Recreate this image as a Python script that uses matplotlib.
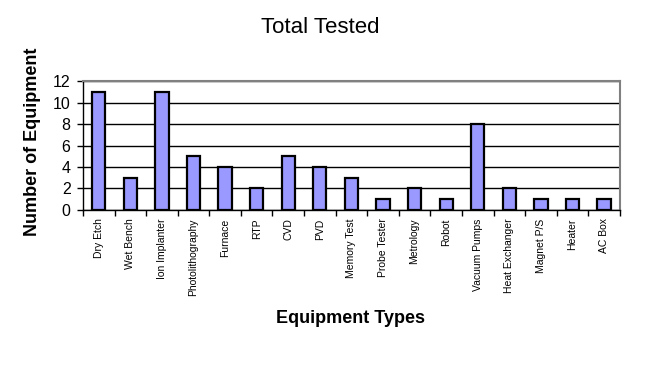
import matplotlib
matplotlib.use('Agg')
import matplotlib.pyplot as plt
import numpy as np

plt.rcParams['font.family'] = ['Liberation Sans', 'DejaVu Sans']

# Equipment categories and counts
equipment = ['Dry Etch', 'Wet Bench', 'Ion Implanter', 'Photolithography', 'Furnace',
             'RTP', 'CVD', 'PVD', 'Memory Test', 'Probe Tester', 'Metrology', 'Robot',
             'Vacuum Pumps', 'Heat Exchanger', 'Magnet P/S', 'Heater', 'AC Box']
counts = [11, 3, 11, 5, 4, 2, 5, 4, 3, 1, 2, 1, 8, 2, 1, 1, 1]
y_ticks = [0, 2, 4, 6, 8, 10, 12]

fig = plt.figure(figsize=(6.47, 3.69), dpi=100)
ax = fig.add_axes([0.1283, 0.431, 0.8297, 0.349])

x = np.arange(len(equipment))
ax.set_axisbelow(True)
ax.bar(x, counts, width=0.42, color='#9999FF', edgecolor='black', linewidth=1.6, zorder=3)

ax.set_xlim(-0.5, len(equipment) - 0.5)
ax.set_ylim(0, 12)
ax.set_yticks(y_ticks)
ax.yaxis.grid(True, color='black', linewidth=1.0)

# category labels in the middle, tick marks on the boundaries
ax.set_xticks(x)
ax.set_xticklabels(equipment, rotation=90, fontsize=7.5, va='top')
ax.tick_params(axis='x', length=0, pad=6)
ax.set_xticks(np.arange(-0.5, len(equipment)), minor=True)
ax.tick_params(axis='x', which='minor', length=4, width=1, direction='out', color='black')
ax.tick_params(axis='y', labelsize=11.5, length=4, width=1, pad=5)

for side in ['top', 'right']:
    ax.spines[side].set_color('#808080')
    ax.spines[side].set_linewidth(1.5)
for side in ['left', 'bottom']:
    ax.spines[side].set_color('black')
    ax.spines[side].set_linewidth(1.0)

fig.text(0.495, 1 - 33 / 369, 'Total Tested', ha='center', va='baseline', fontsize=16)
fig.text(0.5425, 1 - 323 / 369, 'Equipment Types', ha='center', va='baseline',
         fontsize=13, fontweight='bold')
fig.text(0.051, 0.6165, 'Number of Equipment', ha='center', va='center', rotation=90,
         fontsize=13, fontweight='bold')

fig.savefig('out.png', dpi=100)
